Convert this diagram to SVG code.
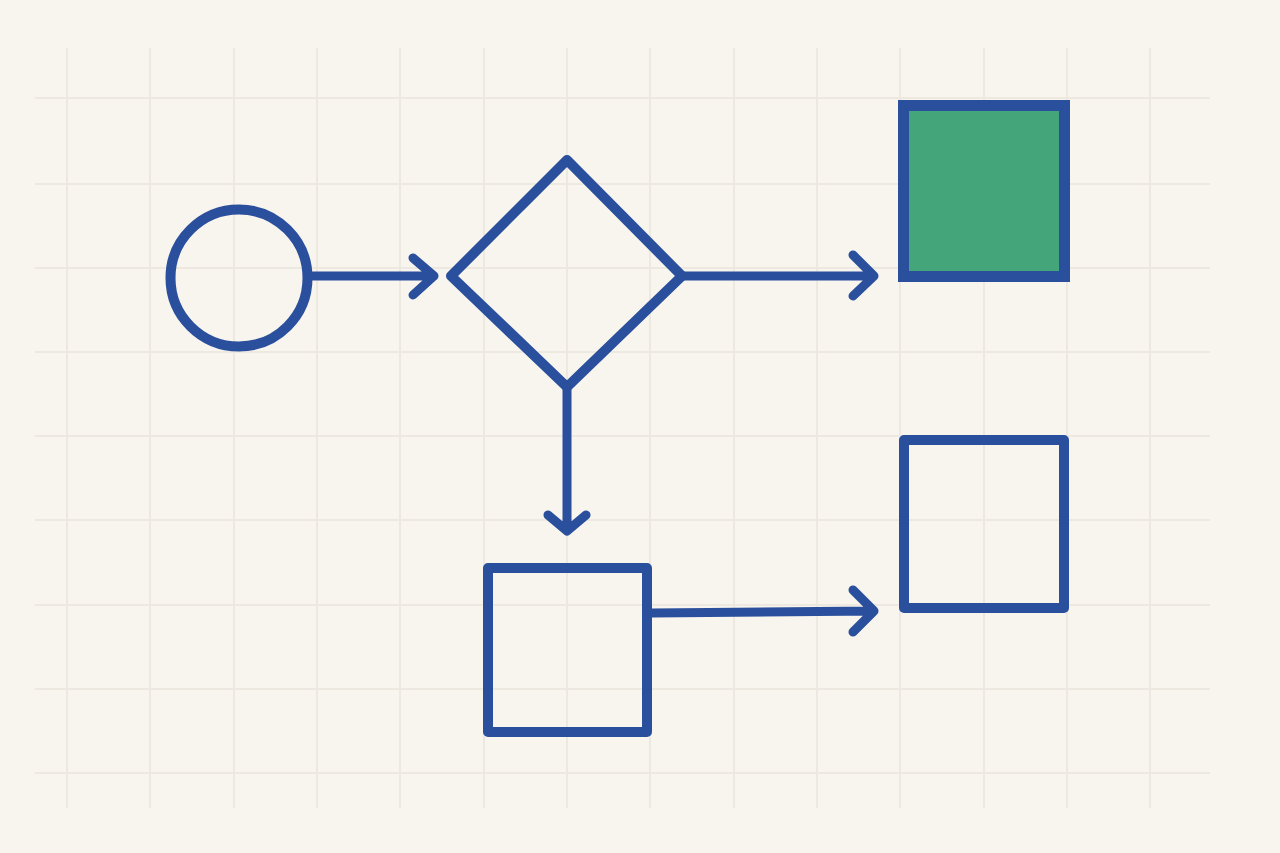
<svg xmlns="http://www.w3.org/2000/svg" width="1280" height="853" viewBox="0 0 1280 853">
  <style>
    .grid line { stroke: #eee9e0; stroke-width: 2; }
    .shape { fill: none; stroke: #2a4f9c; stroke-width: 10; stroke-linejoin: round; }
    .conn { fill: none; stroke: #2a4f9c; stroke-width: 9; stroke-linecap: round; stroke-linejoin: round; }
  </style>
  <rect x="0" y="0" width="1280" height="853" fill="#f8f4ee"/>
  <g class="grid">
    <line x1="67" y1="48" x2="67" y2="808"/>
    <line x1="150" y1="48" x2="150" y2="808"/>
    <line x1="234" y1="48" x2="234" y2="808"/>
    <line x1="317" y1="48" x2="317" y2="808"/>
    <line x1="400" y1="48" x2="400" y2="808"/>
    <line x1="484" y1="48" x2="484" y2="808"/>
    <line x1="567" y1="48" x2="567" y2="808"/>
    <line x1="650" y1="48" x2="650" y2="808"/>
    <line x1="734" y1="48" x2="734" y2="808"/>
    <line x1="817" y1="48" x2="817" y2="808"/>
    <line x1="900" y1="48" x2="900" y2="808"/>
    <line x1="984" y1="48" x2="984" y2="808"/>
    <line x1="1067" y1="48" x2="1067" y2="808"/>
    <line x1="1150" y1="48" x2="1150" y2="808"/>
    <line x1="35" y1="98" x2="1210" y2="98"/>
    <line x1="35" y1="184" x2="1210" y2="184"/>
    <line x1="35" y1="268" x2="1210" y2="268"/>
    <line x1="35" y1="352" x2="1210" y2="352"/>
    <line x1="35" y1="436" x2="1210" y2="436"/>
    <line x1="35" y1="520" x2="1210" y2="520"/>
    <line x1="35" y1="605" x2="1210" y2="605"/>
    <line x1="35" y1="689" x2="1210" y2="689"/>
    <line x1="35" y1="773" x2="1210" y2="773"/>
  </g>
  <g id="start">
    <circle class="shape" cx="239" cy="278" r="68.5" stroke-width="11"/>
  </g>
  <g id="decision">
    <polygon class="shape" points="567,160 682,276 567,387 451,276"/>
  </g>
  <g id="result-green">
    <rect x="903.5" y="105.5" width="161" height="171" fill="#45a57a" stroke="#2a4f9c" stroke-width="11"/>
  </g>
  <g id="process">
    <rect class="shape" x="488" y="568" width="159" height="164"/>
  </g>
  <g id="result-empty">
    <rect class="shape" x="904" y="440" width="160" height="168"/>
  </g>
  <g id="connectors">
    <path class="conn" d="M313,276 H434 M413,258 L434,276 L413,295"/>
    <path class="conn" d="M682,276 H874 M853,255 L874,276 L853,296"/>
    <path class="conn" d="M567,387 V531 M548,515 L567,531 L586,515"/>
    <path class="conn" d="M652,613 L874,611 M853,590 L874,611 L853,632"/>
  </g>
</svg>
